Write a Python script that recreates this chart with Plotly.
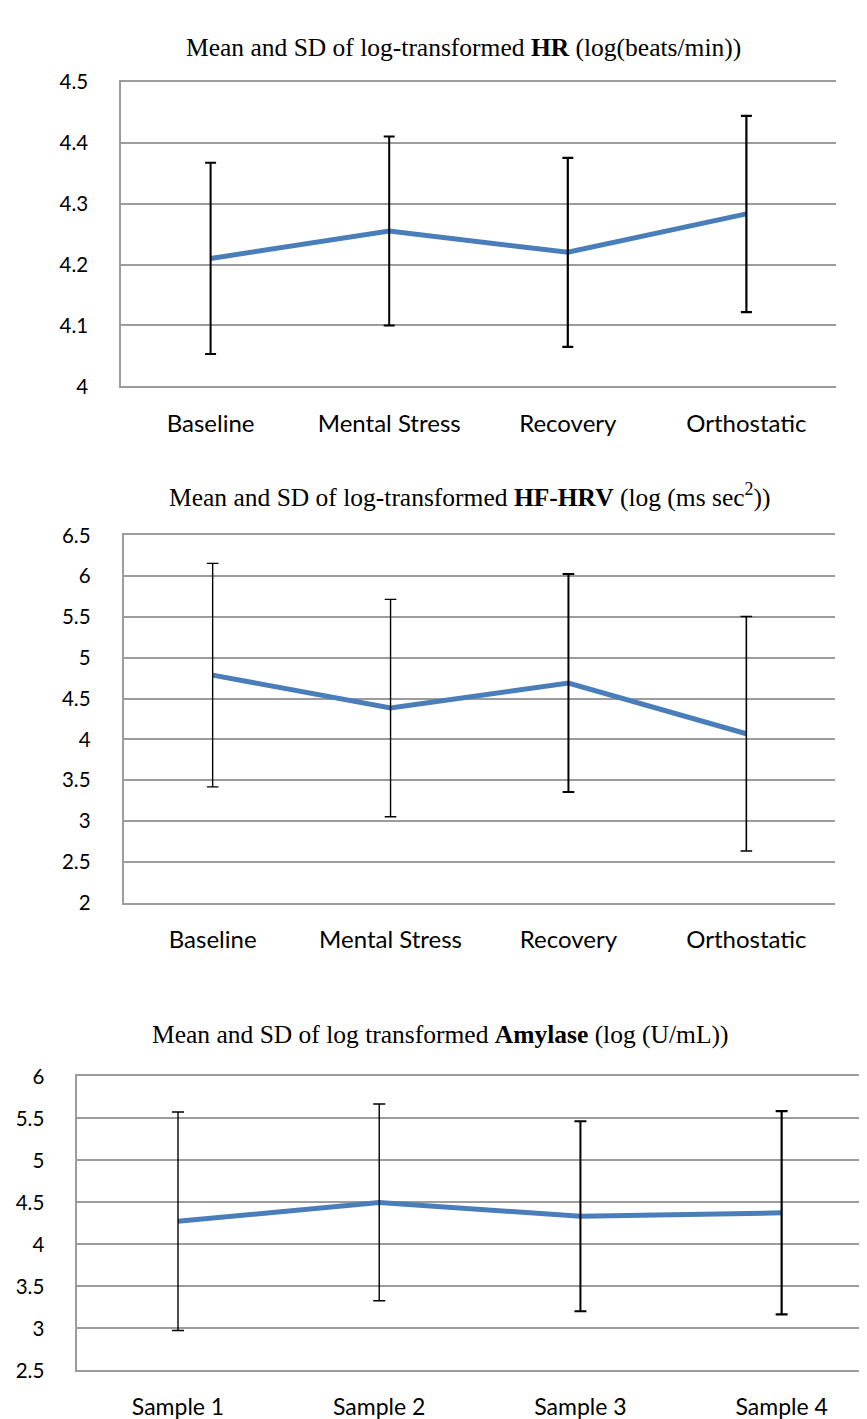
import plotly.graph_objects as go

# ---------------- data ----------------
hr_categories = ["Baseline", "Mental Stress", "Recovery", "Orthostatic"]
hr_mean = [4.210, 4.255, 4.220, 4.283]
hr_sd = [0.157, 0.155, 0.155, 0.161]
hr_ticks = [4.0, 4.1, 4.2, 4.3, 4.4, 4.5]
hr_ticklabels = ["4", "4.1", "4.2", "4.3", "4.4", "4.5"]

hrv_categories = ["Baseline", "Mental Stress", "Recovery", "Orthostatic"]
hrv_mean = [4.788, 4.384, 4.690, 4.069]
hrv_sd = [1.370, 1.332, 1.336, 1.438]
hrv_ticks = [2, 2.5, 3, 3.5, 4, 4.5, 5, 5.5, 6, 6.5]
hrv_ticklabels = ["2", "2.5", "3", "3.5", "4", "4.5", "5", "5.5", "6", "6.5"]

amy_categories = ["Sample 1", "Sample 2", "Sample 3", "Sample 4"]
amy_mean = [4.275, 4.500, 4.335, 4.376]
amy_sd = [1.300, 1.170, 1.131, 1.209]
amy_ticks = [2.5, 3, 3.5, 4, 4.5, 5, 5.5, 6]
amy_ticklabels = ["2.5", "3", "3.5", "4", "4.5", "5", "5.5", "6"]

titles = [
    "Mean and SD of log-transformed <b>HR</b> (log(beats/min))",
    "Mean and SD of log-transformed <b>HF-HRV</b> (log (ms sec<sup>2</sup>))",
    "Mean and SD of log transformed <b>Amylase</b> (log (U/mL))",
]

# ---------------- styling ----------------
W, H = 867, 1419
LINE_BLUE = "#4A7EBB"
GRID = "#9C9C9C"
TICK_FONT = "Lato"
TITLE_FONT = "Liberation Serif, Times New Roman, serif"

panels = [
    dict(cats=hr_categories, mean=hr_mean, sd=hr_sd, ticks=hr_ticks, tl=hr_ticklabels,
         yr=[4.0, 4.5], box=(113.3, 827.7, 61.7, 371.7), xr=[-0.5, 3.5],
         ebw=[2, 2, 2.2, 2.2], cap=5.5, title=titles[0], tpos=(456, 27), xfs=24),
    dict(cats=hrv_categories, mean=hrv_mean, sd=hrv_sd, ticks=hrv_ticks, tl=hrv_ticklabels,
         yr=[2.0, 6.5], box=(115.7, 827.3, 523.3, 896.7), xr=[-0.5, 3.5],
         ebw=[1.4, 1.4, 2, 1.6], cap=5.8, title=titles[1], tpos=(462, 483), xfs=24),
    dict(cats=amy_categories, mean=amy_mean, sd=amy_sd, ticks=amy_ticks, tl=amy_ticklabels,
         yr=[2.5, 6.0], box=(69.4, 867.0, 1073.5, 1372.7), xr=[-0.5, 3.464],
         ebw=[1.4, 1.4, 2, 2.2], cap=6, title=titles[2], tpos=(432, 1031), xfs=23),
]

fig = go.Figure()
layout = dict(
    width=W, height=H, margin=dict(l=0, r=0, t=0, b=0),
    paper_bgcolor="white", plot_bgcolor="white", showlegend=False,
    annotations=[],
)

for i, p in enumerate(panels):
    n = "" if i == 0 else str(i + 1)
    xa, ya = "x" + n, "y" + n
    l, r, t, b = p["box"]
    layout["xaxis" + n] = dict(
        domain=[l / W, min(r / W, 1.0)], range=p["xr"], anchor=ya,
        type="category", showgrid=False, zeroline=False,
        showline=True, mirror=True, linecolor=GRID, linewidth=1.8,
        ticks="", ticklabelstandoff=15,
        tickfont=dict(family=TICK_FONT, size=p["xfs"], color="#000000"),
        fixedrange=True,
    )
    layout["yaxis" + n] = dict(
        domain=[1 - b / H, 1 - t / H], range=p["yr"], anchor=xa,
        tickvals=p["ticks"], ticktext=p["tl"],
        showgrid=True, gridcolor=GRID, gridwidth=1.8, zeroline=False,
        showline=True, mirror=False, linecolor=GRID, linewidth=2,
        ticks="", ticklabelstandoff=27,
        tickfont=dict(family=TICK_FONT, size=20.5, color="#000000"),
        fixedrange=True,
    )
    fig.add_trace(go.Scatter(
        x=p["cats"], y=p["mean"], xaxis=xa, yaxis=ya, mode="lines",
        line=dict(color=LINE_BLUE, width=5), hoverinfo="skip",
    ))
    for j in range(len(p["cats"])):
        fig.add_trace(go.Scatter(
            x=[p["cats"][j]], y=[p["mean"][j]], xaxis=xa, yaxis=ya, mode="markers",
            marker=dict(size=1, opacity=0),
            error_y=dict(type="data", array=[p["sd"][j]], visible=True,
                         color="black", thickness=p["ebw"][j], width=p["cap"]),
            hoverinfo="skip",
        ))
    layout["annotations"].append(dict(
        text=p["title"], x=p["tpos"][0] / W, y=1 - p["tpos"][1] / H,
        xref="paper", yref="paper", xanchor="center", yanchor="middle",
        showarrow=False, font=dict(family=TITLE_FONT, size=25.5, color="black"),
    ))

fig.update_layout(**layout)
fig.write_html("out.html")
